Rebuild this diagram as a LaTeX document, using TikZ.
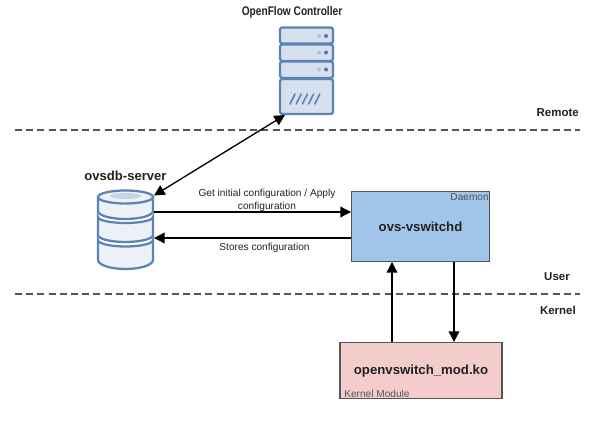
\documentclass[tikz,border=0pt]{standalone}
\usepackage{fontspec}
\usepackage{graphicx}
\setmainfont{Liberation Sans}
\usetikzlibrary{arrows.meta}
\definecolor{iconblue}{HTML}{5B84B5}
\definecolor{iconfill}{HTML}{D6E0EE}
\definecolor{dbfill}{HTML}{EDF2F9}
\definecolor{daemonfill}{HTML}{A0C5E8}
\definecolor{kernelfill}{HTML}{F4CCCC}
\definecolor{boxline}{HTML}{555555}
\definecolor{txt}{HTML}{222222}
\tikzset{
  x=0.75pt,y=-0.75pt,
  boxstyle/.style={draw=boxline,line width=1.3pt,inner sep=0pt,text=txt,font=\bfseries\fontsize{9.9}{12}\selectfont},
  title/.style={text=txt,inner sep=0pt,font=\bfseries\fontsize{9.4}{11}\selectfont},
  dbtitle/.style={text=txt,inner sep=0pt,font=\bfseries\fontsize{9.8}{12}\selectfont},
  small/.style={text=txt,inner sep=0pt,font=\fontsize{7.6}{9.6}\selectfont,align=center},
  tag/.style={text=boxline,inner sep=0pt,font=\fontsize{7.6}{9}\selectfont},
  region/.style={text=txt,inner sep=0pt,font=\bfseries\fontsize{8.6}{10}\selectfont},
  sep/.style={draw=boxline,line width=1.3pt,dash pattern=on 5.2pt off 3.2pt},
  conn/.style={draw=black,line width=1pt,-{Triangle[length=8pt,width=8pt]}},
  connb/.style={conn,{Triangle[length=8pt,width=8pt]}-{Triangle[length=8pt,width=8pt]}},
  unit/.style={draw=iconblue,fill=iconfill,line width=1.7pt,rounded corners=1.8pt},
  disc/.style={draw=iconblue,fill=dbfill,line width=1.7pt},
}
\begin{document}
\begin{tikzpicture}
\useasboundingbox (0,0) rectangle (600,423);
\fill[white] (0,0) rectangle (600,423);

% separators
\coordinate (s1l) at (15,130); \coordinate (s1r) at (580,130);
\coordinate (s2l) at (15,294); \coordinate (s2r) at (580,294);
\draw[sep] (s1l) -- (s1r);
\draw[sep] (s2l) -- (s2r);

% region labels
\node[region,anchor=east] (remote) at (579,113) {Remote};
\node[region,anchor=east] (user) at (570,277) {User};
\node[region,anchor=east] (kernel) at (576,310) {Kernel};

% controller icon
\node[title] (ctitle) at (292,12) {\scalebox{0.81}[1]{OpenFlow Controller}};
\draw[unit] (280,27.5) rectangle (333,43.5);
\draw[unit] (280,44.5) rectangle (333,61);
\draw[unit] (280,61.5) rectangle (333,78);
\draw[unit] (280,79) rectangle (333,114);
\foreach \y in {36,52.5,69.5}{
  \fill[iconblue!50] (319,\y) circle (1.5pt);
  \fill[iconblue!90!black] (326,\y) circle (1.5pt);
}
\foreach \i in {0,1,2,3,4}{
  \draw[iconblue,line width=1.2pt,line cap=round] (290+\i*6.2,104) -- (295+\i*6.2,94);
}
\coordinate (ctrlp) at (285,115);

% db icon
\node[dbtitle] (dtitle) at (125.5,176) {ovsdb-server};
\draw[disc] (98,240) arc[start angle=180,end angle=360,x radius=27.5,y radius=-6.5] -- (153,260) arc[start angle=360,end angle=180,x radius=27.5,y radius=-9] -- cycle;
\draw[disc] (98,217) arc[start angle=180,end angle=360,x radius=27.5,y radius=-6] -- (153,235) arc[start angle=360,end angle=180,x radius=27.5,y radius=-7] -- cycle;
\draw[disc] (98,197) -- (153,197) -- (153,211) arc[start angle=360,end angle=180,x radius=27.5,y radius=-8] -- cycle;
\draw[disc] (125.5,197) ellipse[x radius=27.5,y radius=-6.5];
\fill[iconblue!35] (125.5,196) ellipse[x radius=16,y radius=-3];
\coordinate (dbtop) at (154,195.5);
\coordinate (dbr1) at (154,212);
\coordinate (dbr2) at (154,238);

% daemon box
\node[boxstyle,fill=daemonfill,minimum width=103.5pt,minimum height=52.5pt] (ovs) at (420.5,226.5) {};
\node[boxstyle,draw=none] (ovsl) at (420.5,226.5) {ovs-vswitchd};
\node[tag,anchor=north east] (dtag) at (489,193) {Daemon};
\coordinate (ovsl1) at (351,212);
\coordinate (ovsl2) at (351,238);
\coordinate (ovsb1) at (392,262);
\coordinate (ovsb2) at (454,262);

% kernel box
\node[boxstyle,fill=kernelfill,minimum width=121pt,minimum height=42pt] (mod) at (421,370.5) {};
\node[boxstyle,draw=none] (modl) at (421,371) {openvswitch\_mod.ko};
\node[tag,anchor=south west] (ktag) at (344,398) {Kernel Module};
\coordinate (modt1) at (392,342);
\coordinate (modt2) at (454,342);

% connectors
\draw[connb] (ctrlp) -- (dbtop);
\draw[conn] (dbr1) -- (ovsl1);
\draw[conn] (ovsl2) -- (dbr2);
\draw[conn] (modt1) -- (ovsb1);
\draw[conn] (ovsb2) -- (modt2);

% labels
\node[small] (l1) at (267,200) {Get initial configuration / Apply\\configuration};
\node[small] (l2) at (264.5,248) {Stores configuration};
\end{tikzpicture}
\end{document}
